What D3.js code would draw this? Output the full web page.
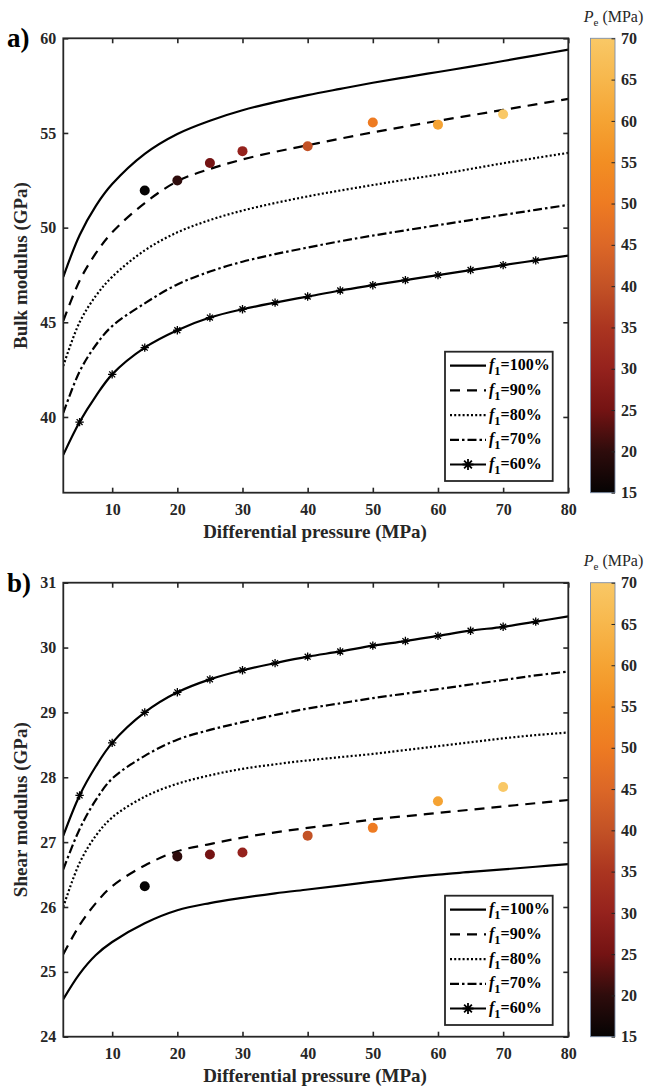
<!DOCTYPE html>
<html>
<head>
<meta charset="utf-8">
<script src="https://cdn.jsdelivr.net/npm/d3@7"></script>
<style>
  html, body { margin: 0; padding: 0; background: #fff; }
  svg { display: block; }
  text { font-family: "Liberation Serif", "Times New Roman", serif; }
</style>
</head>
<body>
<svg id="chart" width="646" height="1087"></svg>
<script>
// ---------------- DATA ----------------
const pdGrid = [2.5, 5, 7.5, 10, 15, 20, 25, 30, 35, 40, 45, 50, 55, 60, 65, 70, 75, 80];

// Bulk modulus (GPa), panel a
const bulk100 = [47.4, 49.6, 51.15, 52.3, 53.9, 54.95, 55.65, 56.2, 56.63, 57.0, 57.33, 57.65, 57.94, 58.22, 58.5, 58.8, 59.1, 59.4];
const bulk90  = [45.07, 47.2, 48.65, 49.75, 51.3, 52.45, 53.1, 53.6, 54.0, 54.35, 54.7, 55.03, 55.34, 55.64, 55.93, 56.22, 56.51, 56.8];
const bulk80  = [42.7, 45.0, 46.4, 47.4, 48.8, 49.75, 50.4, 50.9, 51.3, 51.65, 51.96, 52.25, 52.53, 52.8, 53.1, 53.4, 53.68, 53.95];
const bulk70  = [40.21, 42.4, 43.8, 44.8, 46.0, 47.0, 47.68, 48.2, 48.6, 48.95, 49.28, 49.58, 49.86, 50.13, 50.4, 50.67, 50.94, 51.2];
const bulk60  = [38.0, 39.73, 41.1, 42.25, 43.66, 44.58, 45.25, 45.69, 46.04, 46.36, 46.68, 46.96, 47.23, 47.49, 47.76, 48.02, 48.27, 48.52];

// Shear modulus (GPa), panel b
const shear100 = [24.58, 24.97, 25.26, 25.46, 25.75, 25.95, 26.06, 26.14, 26.21, 26.27, 26.33, 26.39, 26.45, 26.5, 26.54, 26.58, 26.62, 26.66];
const shear90  = [25.27, 25.72, 26.06, 26.32, 26.64, 26.86, 26.97, 27.07, 27.15, 27.22, 27.28, 27.35, 27.4, 27.45, 27.5, 27.55, 27.6, 27.65];
const shear80  = [26.0, 26.68, 27.1, 27.38, 27.7, 27.9, 28.03, 28.13, 28.2, 28.26, 28.31, 28.36, 28.42, 28.48, 28.54, 28.6, 28.65, 28.69];
const shear70  = [26.58, 27.2, 27.65, 27.98, 28.33, 28.58, 28.73, 28.85, 28.96, 29.06, 29.14, 29.22, 29.29, 29.36, 29.43, 29.5, 29.57, 29.63];
const shear60  = [27.1, 27.72, 28.17, 28.53, 29.0, 29.31, 29.51, 29.65, 29.76, 29.86, 29.94, 30.03, 30.1, 30.18, 30.26, 30.32, 30.4, 30.48];

// Measured points
const measPd    = [15, 20, 25, 30, 40, 50, 60, 70];
const measPe    = [15, 20, 25, 30, 40, 50, 60, 70];
const measBulk  = [51.96, 52.49, 53.41, 54.04, 54.3, 55.55, 55.44, 55.99];
const measShear = [26.32, 26.78, 26.81, 26.84, 27.1, 27.22, 27.63, 27.85];

// Marker positions for f1=60%
const markerPd = [5, 10, 15, 20, 25, 30, 35, 40, 45, 50, 55, 60, 65, 70, 75];

const f1Labels = ["100%", "90%", "80%", "70%", "60%"];
const xTicks = [10, 20, 30, 40, 50, 60, 70, 80];
const bulkTicks = [40, 45, 50, 55, 60];
const shearTicks = [24, 25, 26, 27, 28, 29, 30, 31];
const peTicks = [15, 20, 25, 30, 35, 40, 45, 50, 55, 60, 65, 70];

// colormap stops (Pe value -> colour)
const peStopVals = [15, 20, 25, 30, 35, 40, 45, 50, 55, 60, 65, 70];
const peStopCols = ["#050303", "#2e0c0c", "#741313", "#95221d", "#ab3520", "#c35226", "#dc6727", "#ee7b22", "#f28e23", "#f5a333", "#f7b74c", "#f9c866"];

// ---------------- DRAW ----------------
const svg = d3.select("#chart");
const L = 63.3, R = 568.3;
const x = d3.scaleLinear().domain([2.5, 80]).range([L, R]);
const peColor = d3.scaleLinear().domain(peStopVals).range(peStopCols).interpolate(d3.interpolateRgb);

const styles = [
  {dash: null, marker: false},
  {dash: "10,7", marker: false},
  {dash: "2,2.2", marker: false},
  {dash: "9,3,2.5,3", marker: false},
  {dash: null, marker: true}
];

const panels = [
  {top: 38.3, bottom: 492.7, domain: [36, 60], ticks: bulkTicks, letter: "a)", ylabel: "Bulk modulus (GPa)",
   series: [bulk100, bulk90, bulk80, bulk70, bulk60], meas: measBulk},
  {top: 582.7, bottom: 1036.7, domain: [24, 31], ticks: shearTicks, letter: "b)", ylabel: "Shear modulus (GPa)",
   series: [shear100, shear90, shear80, shear70, shear60], meas: measShear}
];

function asterisk(g, cx, cy, r, sw) {
  const d = r * 0.7071;
  const p = `M${cx - r},${cy}L${cx + r},${cy}M${cx},${cy - r}L${cx},${cy + r}` +
            `M${cx - d},${cy - d}L${cx + d},${cy + d}M${cx - d},${cy + d}L${cx + d},${cy - d}`;
  g.append("path").attr("d", p).attr("stroke", "#000").attr("stroke-width", sw).attr("fill", "none");
}

// gradient
const defs = svg.append("defs");
const grad = defs.append("linearGradient").attr("id", "peGrad")
  .attr("x1", 0).attr("y1", 1).attr("x2", 0).attr("y2", 0);
peStopVals.forEach((v, i) => {
  grad.append("stop").attr("offset", (v - 15) / 55).attr("stop-color", peStopCols[i]);
});

panels.forEach((P, pi) => {
  const y = d3.scaleLinear().domain(P.domain).range([P.bottom, P.top]);
  const g = svg.append("g");
  const clipId = "clip" + pi;
  defs.append("clipPath").attr("id", clipId).append("rect")
    .attr("x", L).attr("y", P.top).attr("width", R - L).attr("height", P.bottom - P.top);

  // curves
  const line = d3.line().x((d, i) => x(pdGrid[i])).y(d => y(d)).curve(d3.curveCatmullRom.alpha(0.5));
  const cg = g.append("g").attr("clip-path", `url(#${clipId})`);
  P.series.forEach((s, i) => {
    cg.append("path").datum(s).attr("d", line)
      .attr("fill", "none").attr("stroke", "#000").attr("stroke-width", 2.2)
      .attr("stroke-dasharray", styles[i].dash);
  });
  // asterisk markers on 60% curve
  const s60 = P.series[4];
  markerPd.forEach(pd => {
    const idx = pdGrid.indexOf(pd);
    asterisk(cg, x(pd), y(s60[idx]), 4.2, 1.3);
  });

  // measured points
  g.selectAll(".meas").data(measPd).enter().append("circle")
    .attr("cx", d => x(d)).attr("cy", (d, i) => y(P.meas[i])).attr("r", 5)
    .attr("fill", (d, i) => peColor(measPe[i]));

  // axes
  const ax = g.append("g").attr("font-weight", "bold");
  const bx = ax.append("g").attr("transform", `translate(0,${P.bottom})`)
    .call(d3.axisBottom(x).tickValues(xTicks).tickSize(-5).tickPadding(11).tickFormat(d3.format("d")));
  const tx = ax.append("g").attr("transform", `translate(0,${P.top})`)
    .call(d3.axisTop(x).tickValues(xTicks).tickSize(-5).tickFormat(""));
  const ly = ax.append("g").attr("transform", `translate(${L},0)`)
    .call(d3.axisLeft(y).tickValues(P.ticks).tickSize(-5).tickPadding(7).tickFormat(d3.format("d")));
  const ry = ax.append("g").attr("transform", `translate(${R},0)`)
    .call(d3.axisRight(y).tickValues(P.ticks).tickSize(-5).tickFormat(""));
  [bx, tx, ly, ry].forEach(a => {
    a.select(".domain").remove();
    a.selectAll("line").attr("stroke", "#262626").attr("stroke-width", 1.6);
    a.selectAll("text").attr("font-family", "Liberation Serif").attr("font-size", 16)
      .attr("font-weight", "bold").attr("fill", "#262626");
  });
  g.append("rect").attr("x", L).attr("y", P.top).attr("width", R - L).attr("height", P.bottom - P.top)
    .attr("fill", "none").attr("stroke", "#262626").attr("stroke-width", 1.8);

  // axis titles
  g.append("text").attr("x", 315).attr("y", P.bottom + 45).attr("text-anchor", "middle")
    .attr("font-size", 19).attr("font-weight", "bold").attr("fill", "#262626").text("Differential pressure (MPa)");
  g.append("text").attr("transform", `translate(27,${(P.top + P.bottom) / 2}) rotate(-90)`)
    .attr("text-anchor", "middle").attr("font-size", 19).attr("font-weight", "bold").attr("fill", "#262626")
    .text(P.ylabel);
  g.append("text").attr("x", 7).attr("y", P.top + 9).attr("font-size", 27).attr("font-weight", "bold")
    .attr("fill", "#000").text(P.letter);

  // legend
  const lgTop = P.bottom - 141, lgLeft = 445, lgW = 107.7, lgH = 129.3;
  const lg = g.append("g");
  lg.append("rect").attr("x", lgLeft).attr("y", lgTop).attr("width", lgW).attr("height", lgH)
    .attr("fill", "#fff").attr("stroke", "#262626").attr("stroke-width", 1.8);
  f1Labels.forEach((lab, i) => {
    const yy = lgTop + 14 + i * 24.7;
    lg.append("line").attr("x1", 450).attr("x2", 486).attr("y1", yy).attr("y2", yy)
      .attr("stroke", "#000").attr("stroke-width", 2.2).attr("stroke-dasharray", styles[i].dash);
    if (styles[i].marker) asterisk(lg, 468, yy, 5.5, 1.8);
    const t = lg.append("text").attr("x", 489).attr("y", yy + 4.5).attr("font-size", 16)
      .attr("font-weight", "bold").attr("fill", "#000");
    t.append("tspan").attr("font-style", "italic").text("f");
    t.append("tspan").attr("dy", 5).attr("font-size", 12.5).text("1");
    t.append("tspan").attr("dy", -5).text("=" + lab);
  });

  // colorbar
  const cbL = 590.5, cbW = 24.5;
  const pe = d3.scaleLinear().domain([15, 70]).range([P.bottom, P.top]);
  g.append("rect").attr("x", cbL).attr("y", P.top).attr("width", cbW).attr("height", P.bottom - P.top)
    .attr("fill", "url(#peGrad)").attr("stroke", "#7d8ea8").attr("stroke-width", 0.9);
  const cax = g.append("g").attr("transform", `translate(${cbL + cbW},0)`)
    .call(d3.axisRight(pe).tickValues(peTicks).tickSize(-3.5).tickPadding(6).tickFormat(d3.format("d")));
  cax.select(".domain").remove();
  cax.selectAll("line").attr("stroke", "#262626").attr("stroke-width", 1);
  cax.selectAll("text").attr("font-family", "Liberation Serif").attr("font-size", 16)
    .attr("font-weight", "bold").attr("fill", "#262626");
  const ct = g.append("text").attr("x", 613.5).attr("y", P.top - 16.5).attr("text-anchor", "middle")
    .attr("font-size", 16).attr("fill", "#262626");
  ct.append("tspan").attr("font-style", "italic").text("P");
  ct.append("tspan").attr("dy", 4).attr("font-size", 11).text("e");
  ct.append("tspan").attr("dy", -4).text(" (MPa)");
});
</script>
</body>
</html>
